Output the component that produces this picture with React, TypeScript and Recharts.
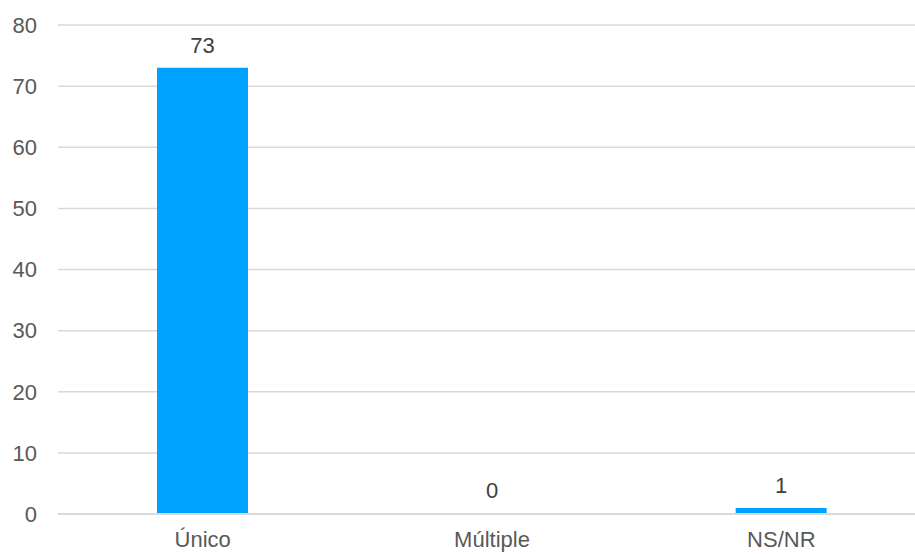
import React from 'react';
import {
    BarChart,
    Bar,
    XAxis,
    YAxis,
    CartesianGrid,
    LabelList,
    ReferenceDot,
} from 'recharts';

const categories = ['Único', 'Múltiple', 'NS/NR'];
const counts = [73, 0, 1];
const yTicks = [0, 10, 20, 30, 40, 50, 60, 70, 80];

const data = categories.map((name, i) => ({ name, value: counts[i] }));

const FONT = '"Liberation Sans", Arial, sans-serif';

export default function App() {
    return (
        <div
            style={{
                position: 'absolute',
                left: 0,
                top: 0,
                width: 915,
                height: 554,
                overflow: 'hidden',
                background: '#fff',
            }}
        >
            <BarChart
                width={926}
                height={554}
                data={data}
                margin={{ top: 25, right: 0, left: 0, bottom: 0 }}
                barSize={91}
            >
                <CartesianGrid vertical={false} stroke="#d9d9d9" strokeWidth={1.5} />
                <XAxis
                    dataKey="name"
                    height={40}
                    tickLine={false}
                    tickSize={0}
                    tickMargin={17}
                    axisLine={{ stroke: '#d9d9d9', strokeWidth: 2 }}
                    tick={{ fill: '#595959', fontSize: 22, fontFamily: FONT }}
                />
                <YAxis
                    width={58}
                    domain={[0, 80]}
                    ticks={yTicks}
                    tickLine={false}
                    tickSize={0}
                    tickMargin={21}
                    axisLine={false}
                    tick={{ fill: '#595959', fontSize: 22, fontFamily: FONT }}
                />
                <Bar dataKey="value" fill="#00A2FF" isAnimationActive={false}>
                    <LabelList
                        dataKey="value"
                        position="top"
                        offset={15}
                        fill="#404040"
                        fontSize={22}
                        fontFamily={FONT}
                    />
                </Bar>
                {/* zero-height bars get no label from LabelList, so add one here */}
                {data
                    .filter((d) => d.value === 0)
                    .map((d) => (
                        <ReferenceDot
                            key={d.name}
                            x={d.name}
                            y={d.value}
                            r={0}
                            fill="none"
                            stroke="none"
                            label={{
                                value: d.value,
                                position: 'top',
                                offset: 16,
                                fill: '#404040',
                                fontSize: 22,
                                fontFamily: FONT,
                            }}
                        />
                    ))}
            </BarChart>
        </div>
    );
}
